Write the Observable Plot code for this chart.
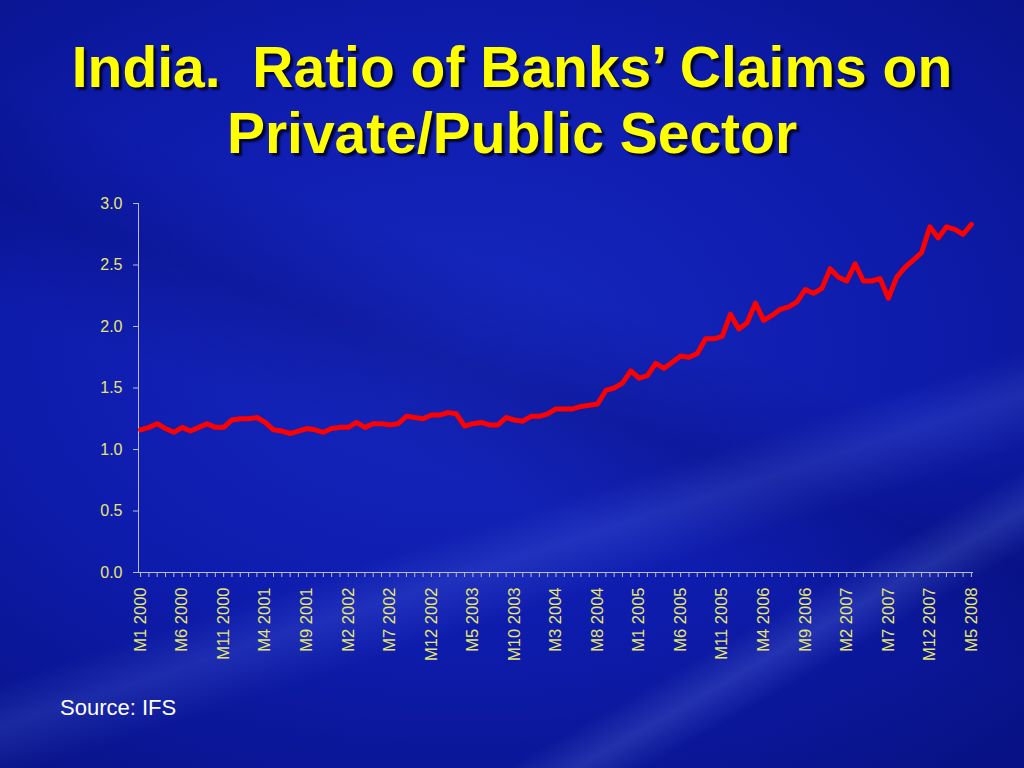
<!DOCTYPE html>
<html>
<head>
<meta charset="utf-8">
<script src="https://cdn.jsdelivr.net/npm/d3@7"></script>
<script src="https://cdn.jsdelivr.net/npm/@observablehq/plot@0.6"></script>
<style>
  html, body { margin: 0; padding: 0; }
  body {
    width: 1024px; height: 768px; overflow: hidden; position: relative;
    font-family: "Liberation Sans", Arial, sans-serif;
    background:
      linear-gradient(162deg, rgba(255,255,255,0) 62%, rgba(120,150,255,0.16) 66%, rgba(255,255,255,0) 71%),
      linear-gradient(150deg, rgba(255,255,255,0) 78%, rgba(140,170,255,0.18) 81%, rgba(255,255,255,0) 84%),
      linear-gradient(20deg, rgba(0,0,60,0) 40%, rgba(0,0,80,0.22) 50%, rgba(0,0,60,0) 60%),
      radial-gradient(ellipse 80% 70% at 45% 45%, #1628c0 0%, #0e1cac 55%, #081286 100%);
  }
  #title {
    height: 185px; box-sizing: border-box; padding-top: 34px;
    text-align: center; color: #ffff00; font-weight: bold;
    font-size: 57px; line-height: 66px; white-space: pre;
    text-shadow: 3px 3px 2px rgba(0,0,30,0.85);
  }
  #chart { height: 500px; }
  #source { position: absolute; left: 60px; top: 695px; color: #ffffff; font-size: 22px; }
  svg text { font-family: "Liberation Sans", Arial, sans-serif; }
</style>
</head>
<body>
<div id="title">India.  Ratio of Banks’ Claims on
Private/Public Sector</div>
<div id="chart"></div>
<div id="source">Source: IFS</div>
<script>
// Monthly ratio, M1 2000 .. M5 2008
const ratio = [
  1.16, 1.18, 1.21, 1.17, 1.14, 1.18, 1.15, 1.18, 1.21, 1.18,
  1.18, 1.24, 1.25, 1.25, 1.26, 1.22, 1.16, 1.15, 1.13, 1.15,
  1.17, 1.16, 1.14, 1.17, 1.18, 1.18, 1.22, 1.18, 1.21, 1.21,
  1.20, 1.21, 1.27, 1.26, 1.25, 1.28, 1.28, 1.30, 1.29, 1.19,
  1.21, 1.22, 1.20, 1.20, 1.26, 1.24, 1.23, 1.27, 1.27, 1.29,
  1.33, 1.33, 1.33, 1.35, 1.36, 1.37, 1.48, 1.50, 1.54, 1.64,
  1.58, 1.60, 1.70, 1.66, 1.71, 1.76, 1.75, 1.78, 1.90, 1.90,
  1.92, 2.10, 1.98, 2.03, 2.19, 2.05, 2.09, 2.14, 2.16, 2.20,
  2.30, 2.27, 2.31, 2.47, 2.40, 2.37, 2.51, 2.37, 2.37, 2.39,
  2.23, 2.40, 2.48, 2.54, 2.60, 2.81, 2.72, 2.81, 2.79, 2.75,
  2.83
];
const startYear = 2000;
const months = ratio.map((_, i) => `M${(i % 12) + 1} ${startYear + Math.floor(i / 12)}`);
const labelEvery = 5;
const yTicks = [0, 0.5, 1.0, 1.5, 2.0, 2.5, 3.0];

const data = months.map((m, i) => ({month: m, value: ratio[i]}));

const tickColor = "#e6e66e";
const axisColor = "#b8bcd8";

const plot = Plot.plot({
  width: 1024,
  height: 500,
  marginLeft: 138,
  marginRight: 51,
  marginTop: 18,
  marginBottom: 113,
  style: {background: "transparent", color: tickColor, fontSize: "16px"},
  x: {type: "point", domain: months, padding: 0.25, round: false, label: null},
  y: {domain: [0, 3], label: null},
  marks: [
    Plot.ruleY([0], {stroke: axisColor, strokeWidth: 1}),
    Plot.frame({anchor: "left", stroke: axisColor, strokeWidth: 1}),
    Plot.axisY({ticks: yTicks, tickFormat: d3.format(".1f"), tickSize: 5, tickPadding: 11, stroke: axisColor, fill: tickColor, fontSize: 16, label: null}),
    Plot.axisX({ticks: months, tickSize: 5, tickPadding: 10, tickRotate: -90, stroke: axisColor, fill: tickColor, fontSize: 16.5, label: null,
      tickFormat: (d) => (months.indexOf(d) % labelEvery === 0 ? d : "")}),
    Plot.lineY(data, {x: "month", y: "value", stroke: "#ff0000", strokeWidth: 5, strokeLinejoin: "round"})
  ]
});
document.getElementById("chart").appendChild(plot);
</script>
</body>
</html>
